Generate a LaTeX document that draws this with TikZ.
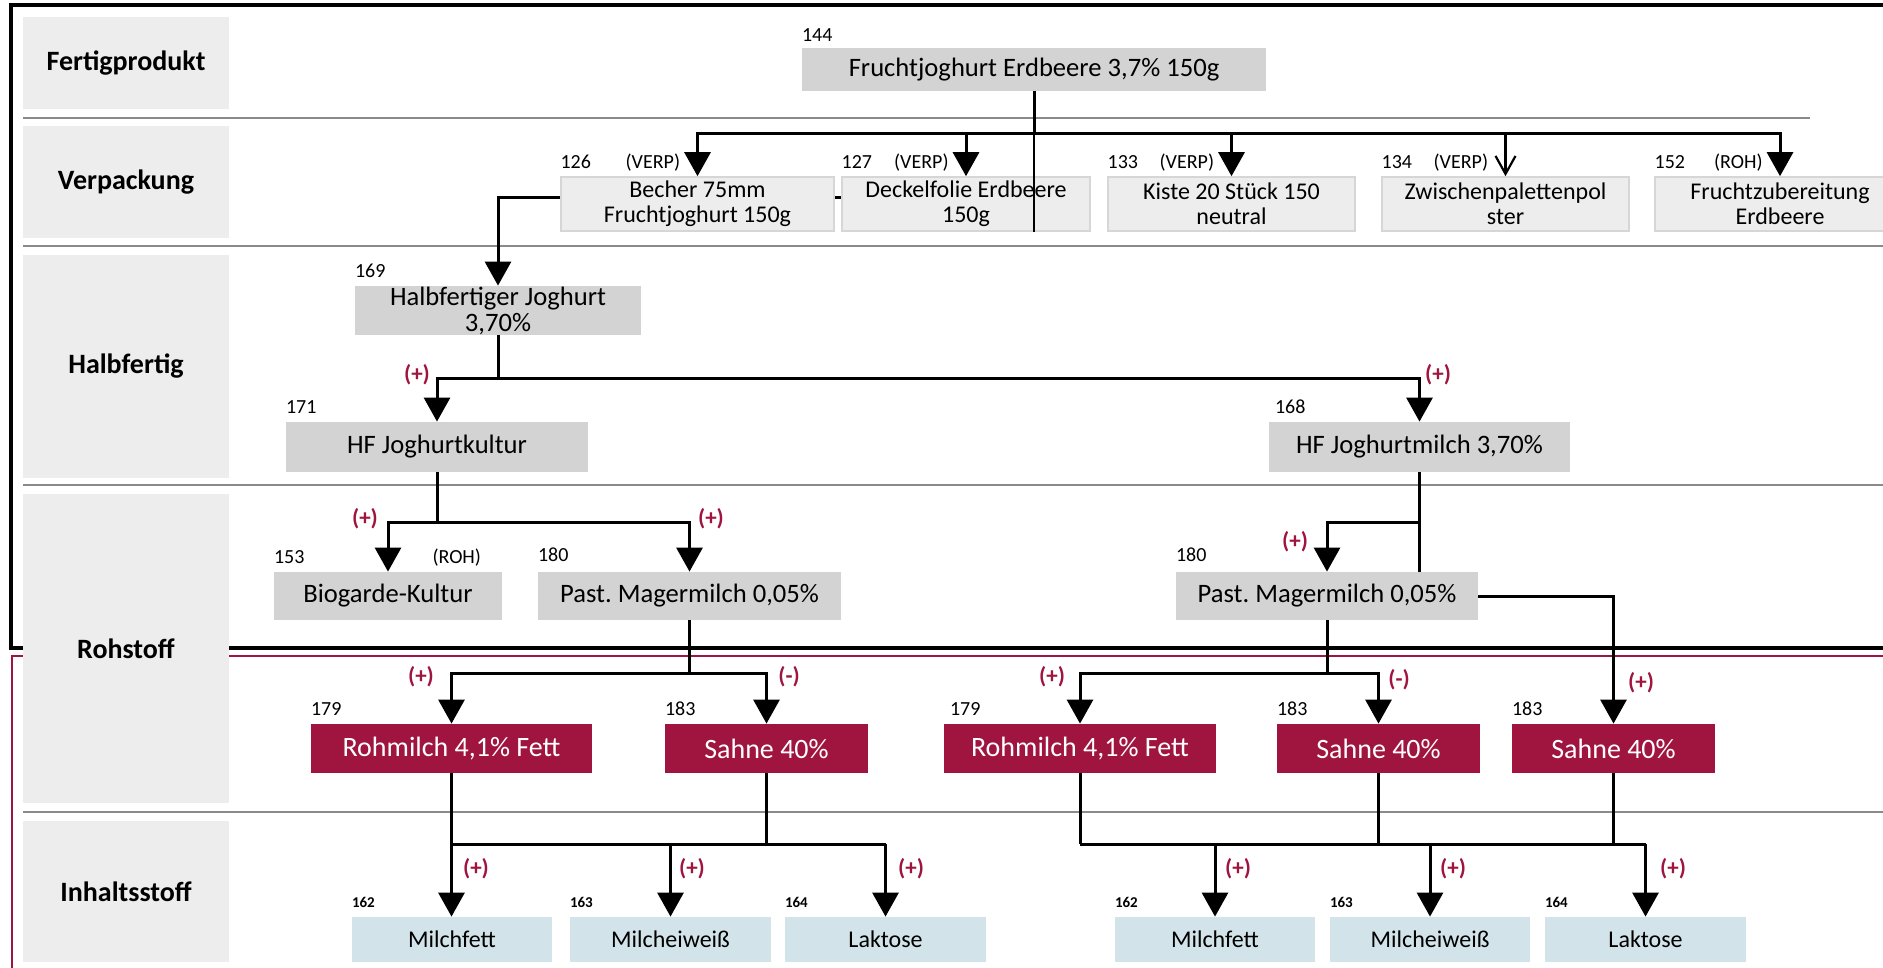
\documentclass[tikz,border=0pt]{standalone}
\usepackage{fontspec}
\setmainfont{Carlito}
\frenchspacing
\usepackage{tikz}
\usetikzlibrary{arrows.meta,positioning,calc}
\definecolor{clrCat}{HTML}{EDEDED}
\definecolor{clrGrey}{HTML}{D3D3D3}
\definecolor{clrVerp}{HTML}{EDEDED}
\definecolor{clrVerpLine}{HTML}{D6D6D6}
\definecolor{clrRoh}{RGB}{160,21,64}
\definecolor{clrInh}{HTML}{D2E4EA}
\definecolor{clrSep}{HTML}{8A8A8A}
\tikzstyle{catbox}=[fill=clrCat, minimum width=103pt, inner sep=0pt, font=\bfseries\fontsize{14}{16}\selectfont]
\tikzstyle{box_base}=[anchor=center, align=center, inner sep=0pt]
\tikzstyle{greybox}=[box_base, fill=clrGrey, minimum height=24.5pt, font=\fontsize{13.3}{13}\selectfont]
\tikzstyle{verpbox}=[box_base, fill=clrVerp, draw=clrVerpLine, line width=0.8pt, minimum height=27pt, minimum width=123.5pt, font=\fontsize{12}{12.5}\selectfont]
\tikzstyle{rohbox}=[box_base, fill=clrRoh, text=white, minimum height=24.5pt, minimum width=101.5pt, font=\fontsize{14}{16}\selectfont]
\tikzstyle{inhbox}=[box_base, fill=clrInh, minimum height=22.5pt, minimum width=100pt, font=\fontsize{12}{14}\selectfont]
\tikzstyle{nr}=[anchor=base west, inner sep=0pt, font=\fontsize{10}{12}\selectfont]
\tikzstyle{nrsmall}=[nr, font=\bfseries\fontsize{7.5}{9}\selectfont]
\tikzstyle{tag}=[nr, anchor=base east]
\tikzstyle{sign}=[text=clrRoh, inner sep=0pt, font=\bfseries\fontsize{11.5}{13}\selectfont]
\tikzstyle{myarrow}=[->, >={Triangle[width=13pt,length=12pt]}, line width=1.5pt]
\tikzstyle{line}=[line width=1.5pt]
\tikzstyle{sep}=[clrSep, line width=1pt]
\pgfdeclarelayer{background}
\pgfsetlayers{background,main}

\begin{document}
\begin{tikzpicture}[x=0.5pt,y=-0.5pt]
	\useasboundingbox (0,0) rectangle (1883,968);

	\begin{pgfonlayer}{background}
		\draw[line width=1.6pt] (1895,5) -- (11,5) -- (11,648) -- (1895,648);
		\draw[clrRoh, line width=0.8pt] (1895,656) -- (12,656) -- (12,980);
		\draw[sep] (23,118) -- (1810,118);
		\draw[sep] (23,246) -- (1895,246);
		\draw[sep] (23,485) -- (1895,485);
		\draw[sep] (23,812) -- (1895,812);
	\end{pgfonlayer}

	% Zeilen
	\node[catbox, minimum height=46pt] (catFP) at (126,63) {Fertigprodukt};
	\node[catbox, minimum height=56pt] (catVP) at (126,182) {Verpackung};
	\node[catbox, minimum height=111.5pt] (catHF) at (126,366.5) {Halbfertig};
	\node[catbox, minimum height=154.5pt] (catRS) at (126,648.5) {Rohstoff};
	\node[catbox, minimum height=70.5pt] (catIS) at (126,891.5) {Inhaltsstoff};

	% Fertigprodukt
	\node[greybox, minimum width=232pt, minimum height=21.5pt] (FP) at (1034,69.5) {Fruchtjoghurt Erdbeere 3,7\% 150g};
	\node[nr] (nFP) at ([yshift=3pt]FP.north west) {144};

	% Verpackung
	\node[verpbox, minimum width=136.5pt] (V126) at (697.5,204) {Becher 75mm\\Fruchtjoghurt 150g};
	\node[verpbox, minimum width=124pt] (V127) at (966,204) {Deckelfolie Erdbeere\\150g};
	\node[verpbox] (V133) at (1231.5,204) {Kiste 20 Stück 150\\neutral};
	\node[verpbox] (V134) at (1505.5,204) {Zwischenpalettenpol\\ster};
	\node[verpbox, minimum width=125pt] (V152) at (1780,204) {Fruchtzubereitung\\Erdbeere};
	\foreach \n/\nr/\t in {V126/126/VERP, V127/127/VERP, V133/133/VERP, V134/134/VERP, V152/152/ROH}{
		\node[nr] (n\n) at ([yshift=4pt]\n.north west) {\nr};
		\node[tag] (t\n) at ([xshift=-8.5pt,yshift=4pt]\n.north) {(\t)};
	}
	\coordinate (vbus) at (1034,134);
	\draw[line] (FP.south) -- (vbus);
	\draw[line, line width=1.1pt] (vbus) -- (vbus |- V127.south);
	\draw[myarrow] (vbus) -| (V126.north);
	\draw[myarrow] (vbus) -| (V127.north);
	\draw[myarrow] (vbus) -| (V133.north);
	\draw[line, line width=1.1pt, -{Straight Barb[width=10pt,length=9pt]}] (vbus) -| (V134.north);
	\draw[myarrow] (vbus) -| (V152.north);

	% Halbfertig
	\node[greybox, minimum width=143pt] (H169) at (498,310.5) {Halbfertiger Joghurt\\3,70\%};
	\node[nr] (nH169) at ([yshift=4pt]H169.north west) {169};
	\begin{pgfonlayer}{background}
		\draw[myarrow] ([yshift=3pt]V127.west) -| (H169.north);
	\end{pgfonlayer}

	\node[greybox, minimum width=151pt, minimum height=25pt] (H171) at (437,447) {HF Joghurtkultur};
	\node[nr] (nH171) at ([yshift=4pt]H171.north west) {171};
	\node[greybox, minimum width=150.5pt, minimum height=25pt] (H168) at (1419.5,447) {HF Joghurtmilch 3,70\%};
	\node[nr] (nH168) at ([yshift=4pt,xshift=3pt]H168.north west) {168};
	\coordinate (hbus) at (498,378);
	\draw[line] (H169.south) -- (hbus);
	\draw[myarrow] (hbus) -| (H171.north);
	\draw[myarrow] (hbus) -| (H168.north);
	\node[sign] (s1) at (417,375) {(+)};
	\node[sign] (s2) at (1438,375) {(+)};

	% Rohstoff
	\node[greybox, minimum width=114pt, minimum height=24pt] (R153) at (388,596) {Biogarde-Kultur};
	\node[nr] (nR153) at ([yshift=4pt]R153.north west) {153};
	\node[tag] (tR153) at ([xshift=-10.5pt,yshift=4pt]R153.north east) {(ROH)};
	\node[greybox, minimum width=151.5pt, minimum height=24pt] (R180a) at (689.5,596) {Past. Magermilch 0,05\%};
	\node[nr] (nR180a) at ([yshift=5pt]R180a.north west) {180};
	\node[greybox, minimum width=151pt, minimum height=24pt] (R180b) at (1327,596) {Past. Magermilch 0,05\%};
	\node[nr] (nR180b) at ([yshift=5pt]R180b.north west) {180};

	\coordinate (rbus1) at (437,522);
	\draw[line] (H171.south) -- (rbus1);
	\draw[myarrow] (rbus1) -| (R153.north);
	\draw[myarrow] (rbus1) -| (R180a.north);
	\node[sign] (s3) at (365,519) {(+)};
	\node[sign] (s4) at (711,519) {(+)};

	\coordinate (rbus2) at (1419.5,522);
	\draw[line] (H168.south) -- (H168.south |- R180b.north);
	\draw[myarrow] (rbus2) -| (R180b.north);
	\node[sign] (s5) at (1295,542) {(+)};

	\node[rohbox, minimum width=140.5pt] (R179a) at (451.5,748.5) {Rohmilch 4,1\% Fett};
	\node[nr] (nR179a) at ([yshift=4pt]R179a.north west) {179};
	\node[rohbox] (R183a) at (766.5,748.5) {Sahne 40\%};
	\node[nr] (nR183a) at ([yshift=4pt]R183a.north west) {183};
	\node[rohbox, minimum width=136pt] (R179b) at (1080,748.5) {Rohmilch 4,1\% Fett};
	\node[nr] (nR179b) at ([yshift=4pt,xshift=3pt]R179b.north west) {179};
	\node[rohbox] (R183b) at (1378.5,748.5) {Sahne 40\%};
	\node[nr] (nR183b) at ([yshift=4pt]R183b.north west) {183};
	\node[rohbox] (R183c) at (1613.5,748.5) {Sahne 40\%};
	\node[nr] (nR183c) at ([yshift=4pt]R183c.north west) {183};

	\coordinate (rbus3) at (689.5,673);
	\draw[line] (R180a.south) -- (rbus3);
	\draw[myarrow] (rbus3) -| (R179a.north);
	\draw[myarrow] (rbus3) -| (R183a.north);
	\node[sign] (s6) at (421,677) {(+)};
	\node[sign] (s7) at (789,677) {(-)};

	\coordinate (rbus4) at (1327,673);
	\draw[line] (R180b.south) -- (rbus4);
	\draw[myarrow] (rbus4) -| (R179b.north);
	\draw[myarrow] (rbus4) -| (R183b.north);
	\node[sign] (s8) at (1052,677) {(+)};
	\node[sign] (s9) at (1399,680) {(-)};

	\draw[myarrow] (R180b.east) -| (R183c.north);
	\node[sign] (s10) at (1641,683) {(+)};

	% Inhaltsstoff
	\node[inhbox] (I162a) at (452,939.5) {Milchfett};
	\node[inhbox, minimum width=100.5pt] (I163a) at (670.5,939.5) {Milcheiweiß};
	\node[inhbox, minimum width=100.5pt] (I164a) at (885.5,939.5) {Laktose};
	\node[inhbox] (I162b) at (1215,939.5) {Milchfett};
	\node[inhbox] (I163b) at (1430,939.5) {Milcheiweiß};
	\node[inhbox, minimum width=100.5pt] (I164b) at (1645.5,939.5) {Laktose};
	\foreach \n/\nr in {I162a/162, I163a/163, I164a/164, I162b/162, I163b/163, I164b/164}
		\node[nrsmall] (n\n) at ([yshift=4.5pt]\n.north west) {\nr};

	\coordinate (ibus1) at (0,844);
	\draw[line] (R183a.south) -- (R183a.south |- ibus1);
	\draw[line] (R179a.south |- ibus1) -- (I164a.north |- ibus1);
	\draw[myarrow] (R179a.south) -- (R179a.south |- I162a.north);
	\draw[myarrow] (I163a.north |- ibus1) -- (I163a.north);
	\draw[myarrow] (I164a.north |- ibus1) -- (I164a.north);
	\node[sign] (s11) at (476,869) {(+)};
	\node[sign] (s12) at (692,869) {(+)};
	\node[sign] (s13) at (911,869) {(+)};

	\draw[line] (R179b.south) -- (R179b.south |- ibus1);
	\draw[line] (R183b.south) -- (R183b.south |- ibus1);
	\draw[line] (R183c.south) -- (R183c.south |- ibus1);
	\draw[line] (R179b.south |- ibus1) -- (I164b.north |- ibus1);
	\draw[myarrow] (I162b.north |- ibus1) -- (I162b.north);
	\draw[myarrow] (I163b.north |- ibus1) -- (I163b.north);
	\draw[myarrow] (I164b.north |- ibus1) -- (I164b.north);
	\node[sign] (s14) at (1238,869) {(+)};
	\node[sign] (s15) at (1453,869) {(+)};
	\node[sign] (s16) at (1673,869) {(+)};
\end{tikzpicture}
\end{document}
